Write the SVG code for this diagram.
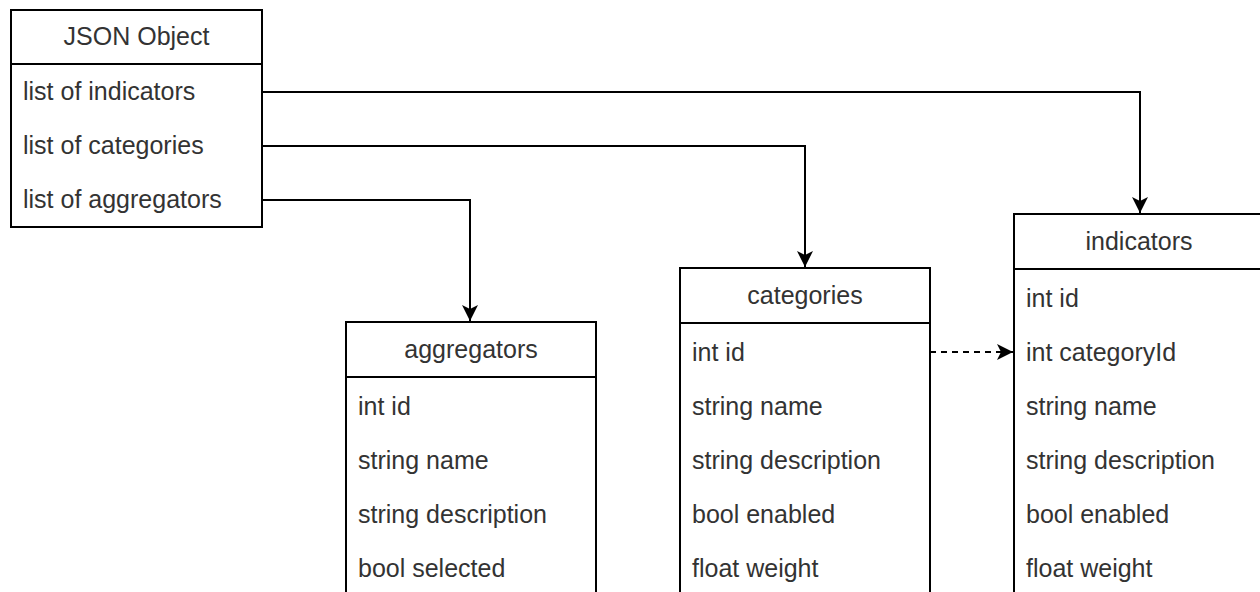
<svg xmlns="http://www.w3.org/2000/svg" width="1260" height="592" viewBox="0 0 1260 592">
<defs>
<style>
.box{fill:#ffffff;stroke:#000000;stroke-width:2}
.sep{stroke:#000000;stroke-width:2}
.t{font-family:"Liberation Sans",Arial,sans-serif;font-size:25px;fill:#333333}
.title{text-anchor:middle}
.conn{fill:none;stroke:#000000;stroke-width:2}
.dash{stroke-dasharray:6 5}
</style>
<marker id="arr" viewBox="0 0 18 18" refX="17" refY="9" markerWidth="18" markerHeight="18" markerUnits="userSpaceOnUse" orient="auto">
<path d="M1,1 L17,9 L1,17 L5,9 Z" fill="#000000"/>
</marker>
</defs>
<rect width="1260" height="592" fill="#ffffff"/>
<g id="connectors">
<path class="conn" d="M262,92 H1140 V213" marker-end="url(#arr)"/>
<path class="conn" d="M262,146 H805 V267" marker-end="url(#arr)"/>
<path class="conn" d="M262,200 H470 V321" marker-end="url(#arr)"/>
<path class="conn dash" d="M930,352 H1013" marker-end="url(#arr)"/>
</g>
<g id="json-object">
<rect class="box" x="11" y="10" width="251" height="217"/>
<line class="sep" x1="11" y1="64" x2="262" y2="64"/>
<text class="t title" x="136.5" y="45">JSON Object</text>
<text class="t" x="23" y="100">list of indicators</text>
<text class="t" x="23" y="154">list of categories</text>
<text class="t" x="23" y="208">list of aggregators</text>
</g>
<g id="aggregators">
<rect class="box" x="346" y="322" width="250" height="290"/>
<line class="sep" x1="346" y1="377" x2="596" y2="377"/>
<text class="t title" x="471" y="358">aggregators</text>
<text class="t" x="358" y="415">int id</text>
<text class="t" x="358" y="469">string name</text>
<text class="t" x="358" y="523">string description</text>
<text class="t" x="358" y="577">bool selected</text>
</g>
<g id="categories">
<rect class="box" x="680" y="268" width="250" height="344"/>
<line class="sep" x1="680" y1="323" x2="930" y2="323"/>
<text class="t title" x="805" y="304">categories</text>
<text class="t" x="692" y="361">int id</text>
<text class="t" x="692" y="415">string name</text>
<text class="t" x="692" y="469">string description</text>
<text class="t" x="692" y="523">bool enabled</text>
<text class="t" x="692" y="577">float weight</text>
</g>
<g id="indicators">
<rect class="box" x="1014" y="214" width="250" height="398"/>
<line class="sep" x1="1014" y1="269" x2="1264" y2="269"/>
<text class="t title" x="1139" y="250">indicators</text>
<text class="t" x="1026" y="307">int id</text>
<text class="t" x="1026" y="361">int categoryId</text>
<text class="t" x="1026" y="415">string name</text>
<text class="t" x="1026" y="469">string description</text>
<text class="t" x="1026" y="523">bool enabled</text>
<text class="t" x="1026" y="577">float weight</text>
</g>
</svg>
